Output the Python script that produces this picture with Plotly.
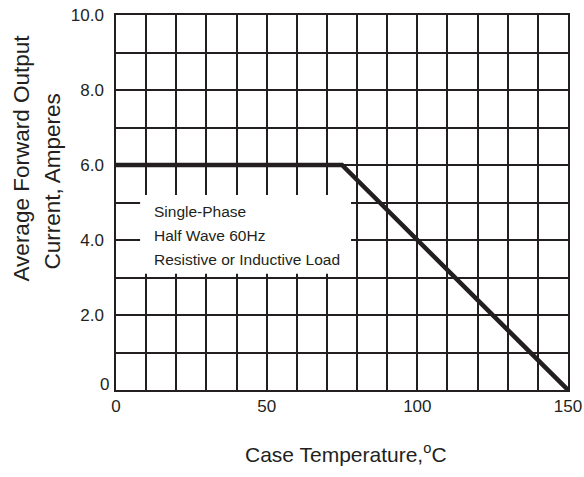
import plotly.graph_objects as go

# Data
temp_c = [0, 75, 150]
current_a = [6.0, 6.0, 0.0]
x_tick_vals = [0, 50, 100, 150]
x_tick_text = ["0", "50", "100", "150"]
y_tick_vals = [2, 4, 6, 8, 10]
y_tick_text = ["2.0", "4.0", "6.0", "8.0", "10.0"]
y_zero_label = "0"
note_lines = ["Single-Phase", "Half Wave 60Hz", "Resistive or Inductive Load"]
note_y = [4.75, 4.13, 3.49]
y_title_lines = ["Average Forward Output", "Current, Amperes"]
x_title = "Case Temperature,<sup>o</sup>C"

FONT = "Liberation Sans"
INK = "#231f20"

fig = go.Figure()
fig.add_trace(go.Scatter(
    x=temp_c, y=current_a, mode="lines",
    line=dict(color=INK, width=4.5), showlegend=False, hoverinfo="skip",
))

# white box behind the note text (above grid, below curve)
fig.add_shape(type="rect", xref="x", yref="y", x0=8, x1=78, y0=3.1, y1=5.2,
              fillcolor="white", line=dict(width=0), layer="between")

for txt, yy in zip(note_lines, note_y):
    fig.add_annotation(
        x=11.9, y=yy, xref="x", yref="y", xanchor="left", yanchor="middle",
        text=txt, showarrow=False, align="left",
        font=dict(family=FONT, size=15.5, color=INK),
    )

# "0" label on the y axis sits just above the axis line, as in the reference
fig.add_annotation(
    x=0, y=0, xref="paper", yref="y", xanchor="right", yanchor="bottom",
    xshift=-5, yshift=-6, text=y_zero_label, showarrow=False,
    font=dict(family=FONT, size=17, color=INK),
)

# y-axis title (two rotated lines)
for txt, px, py in zip(y_title_lines, [-0.208, -0.140], [0.62, 0.555]):
    fig.add_annotation(
        x=px, y=py, xref="paper", yref="paper", xanchor="center", yanchor="middle",
        text=txt, textangle=-90, showarrow=False,
        font=dict(family=FONT, size=22.5, color=INK),
    )

# x-axis title
fig.add_annotation(
    x=0.509, y=-0.168, xref="paper", yref="paper", xanchor="center", yanchor="middle",
    text=x_title, showarrow=False, font=dict(family=FONT, size=21, color=INK),
)

fig.update_layout(
    width=584, height=477,
    margin=dict(l=116, r=16, t=15, b=87),
    plot_bgcolor="white", paper_bgcolor="white",
    font=dict(family=FONT, color=INK),
)

fig.update_xaxes(
    range=[0, 150], tickvals=x_tick_vals, ticktext=x_tick_text,
    showgrid=True, gridcolor=INK, gridwidth=1.5,
    minor=dict(dtick=10, tick0=0, showgrid=True, gridcolor=INK, gridwidth=1.5),
    showline=True, linecolor=INK, linewidth=1.5, mirror=True,
    zeroline=False, ticks="", ticklabelstandoff=0, automargin=False,
    tickfont=dict(family=FONT, size=17, color=INK),
)
fig.update_yaxes(
    range=[0, 10], tickvals=y_tick_vals, ticktext=y_tick_text,
    showgrid=True, gridcolor=INK, gridwidth=1.5,
    minor=dict(dtick=1, tick0=0, showgrid=True, gridcolor=INK, gridwidth=1.5),
    showline=True, linecolor=INK, linewidth=1.5, mirror=True,
    zeroline=False, ticks="", ticklabelstandoff=7, automargin=False,
    tickfont=dict(family=FONT, size=17, color=INK),
)

fig.write_html(
    "out.html",
    config={"displayModeBar": False},
    post_script="document.body.style.margin='0';document.body.style.padding='0';",
)
